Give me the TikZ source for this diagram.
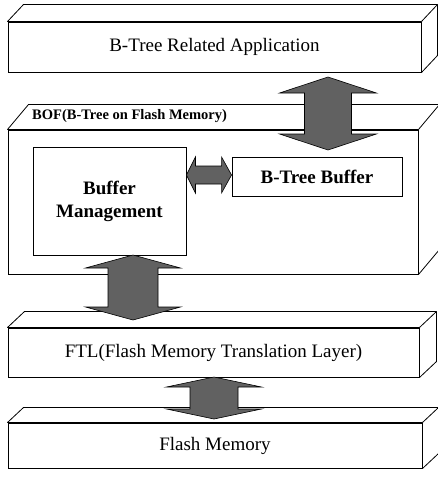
\documentclass[tikz,border=0pt]{standalone}
\usepackage{fontspec}
\setmainfont{Liberation Serif}

\tikzset{
  slab/.style={draw, line width=1pt, fill=white, inner sep=0pt, font=\fontsize{19}{22}\selectfont},
  side/.style={draw, line width=0.8pt, fill=white, line join=round},
  inbox/.style={draw, line width=0.9pt, fill=white, inner sep=0pt, align=center, font=\bfseries\fontsize{19}{23}\selectfont},
  fat/.style={draw=black, line width=0.6pt, fill=black!62},
}

% side faces of a slab: node, depth x, depth y
\newcommand{\slabsides}[3]{%
  \draw[side] (#1.north west) -- ++(#2,-#3) -- ([shift={(#2,-#3)}]#1.north east) -- ([shift={(#2,-#3)}]#1.south east) -- (#1.south east) -- (#1.north east) -- cycle;
  \draw[side] (#1.north east) -- ++(#2,-#3);
}
% fat up-down arrow: x, top tip, bottom tip, shaft half width, head half width, head length
\newcommand{\vfat}[6]{%
  \draw[fat] (#1,#2) -- ({#1+#5},{#2+#6}) -- ({#1+#4},{#2+#6}) -- ({#1+#4},{#3-#6}) -- ({#1+#5},{#3-#6}) -- (#1,#3)
    -- ({#1-#5},{#3-#6}) -- ({#1-#4},{#3-#6}) -- ({#1-#4},{#2+#6}) -- ({#1-#5},{#2+#6}) -- cycle;
}

\begin{document}
\begin{tikzpicture}[x=1pt, y=-1pt]

\useasboundingbox (0,0) rectangle (437,477);

% layers
\node[slab, minimum width=413pt, minimum height=50pt] (app) at (214.5,47) {B-Tree Related Application};
\slabsides{app}{16}{17}

\node[slab, minimum width=410pt, minimum height=144pt] (bof) at (213,202) {};
\slabsides{bof}{21}{25}
\node[anchor=west, inner sep=0pt, font=\bfseries\fontsize{14.5}{16}\selectfont] (boftxt) at (32,116) {BOF(B-Tree on Flash Memory)};

\node[slab, minimum width=411pt, minimum height=49pt] (ftl) at (213.5,352.5) {FTL(Flash Memory Translation Layer)};
\slabsides{ftl}{17}{16}

\node[slab, minimum width=414pt, minimum height=45pt] (flash) at (215,445.5) {Flash Memory};
\slabsides{flash}{16}{15}

% inner boxes
\node[inbox, minimum width=153pt, minimum height=108pt] (bufmgmt) at (109.5,201) {Buffer\\Management};
\node[inbox, minimum width=170pt, minimum height=39pt] (btbuf) at (317,176.5) {B-Tree Buffer};

% arrows
\vfat{328}{77}{150}{23.5}{48.5}{16}
\vfat{133}{255}{320}{25}{47.5}{13}
\vfat{214}{377}{419}{24}{47.5}{10}
\draw[fat] (bufmgmt.east |- 0,175) -- ++(9,-18) -- ++(0,9) -- ([xshift=-10pt]btbuf.west |- 0,166) -- ++(0,-9) -- (btbuf.west |- 0,175)
  -- ++(-10,18) -- ++(0,-9) -- ([xshift=9pt]bufmgmt.east |- 0,184) -- ++(0,9) -- cycle;

\end{tikzpicture}
\end{document}
